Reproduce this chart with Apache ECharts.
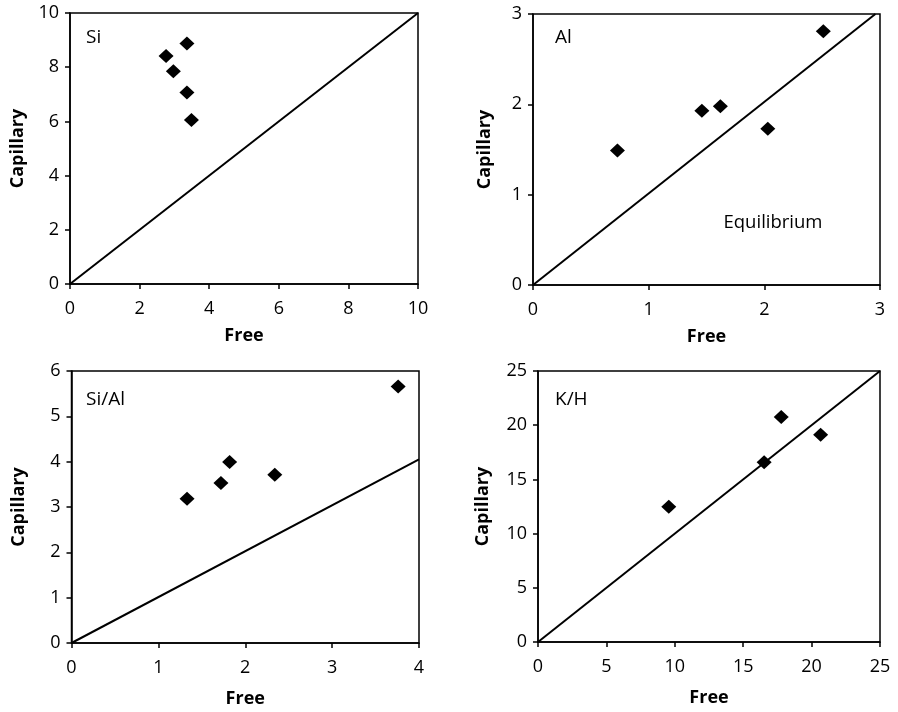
<!DOCTYPE html>
<html>
<head>
<meta charset="utf-8">
<script src="https://cdn.jsdelivr.net/npm/echarts@6/dist/echarts.min.js"></script>
<style>
html,body{margin:0;padding:0;background:#fff;}
#main{width:898px;height:712px;}
</style>
</head>
<body>
<div id="main"></div>
<script>
// Si panel
const siFree = [2.76, 3.36, 2.97, 3.36, 3.49];
const siCap  = [8.41, 8.87, 7.85, 7.07, 6.05];
const siLine = [[0, 0], [10, 10]];
// Al panel
const alFree = [0.73, 1.46, 1.62, 2.03, 2.51];
const alCap  = [1.49, 1.93, 1.98, 1.73, 2.81];
const alLine = [[0, 0], [2.96, 3]];
// Si/Al panel
const siAlFree = [1.33, 1.72, 1.82, 2.34, 3.76];
const siAlCap  = [3.18, 3.53, 3.99, 3.71, 5.66];
const siAlLine = [[0, 0], [4, 4.05]];
// K/H panel
const khFree = [9.56, 16.53, 17.78, 20.66];
const khCap  = [12.47, 16.59, 20.75, 19.12];
const khLine = [[0, 0], [25, 25]];

const panelTitles = ['Si', 'Al', 'Si/Al', 'K/H'];
const xName = 'Free';
const yName = 'Capillary';
const annotation = 'Equilibrium';

const FONT = '"Open Sans", "Noto Sans", sans-serif';

function pairs(xs, ys) { return xs.map((x, i) => [x, ys[i]]); }

const grids = [
  {left: 70, top: 13, width: 348, height: 271},
  {left: 533, top: 14, width: 347, height: 271},
  {left: 71.5, top: 371, width: 347.5, height: 272},
  {left: 538, top: 371, width: 342, height: 271}
].map(g => Object.assign(g, {show: true, borderColor: '#000', borderWidth: 1.5, containLabel: false}));

const axisRanges = [
  {x: [0, 10, 2], y: [0, 10, 2], yGap: 43, xGap: 43},
  {x: [0, 3, 1], y: [0, 3, 1], yGap: 39, xGap: 43},
  {x: [0, 4, 1], y: [0, 6, 1], yGap: 44, xGap: 47},
  {x: [0, 25, 5], y: [0, 25, 5], yGap: 46, xGap: 47}
];

const baseAxis = {
  type: 'value',
  axisLine: {show: true, lineStyle: {color: '#000', width: 1.5}},
  axisTick: {show: true, length: 5, lineStyle: {color: '#000', width: 1.5}},
  splitLine: {show: false},
  nameLocation: 'middle',
  nameTextStyle: {fontFamily: FONT, fontSize: 18, fontWeight: 'bold', color: '#000'},
  axisLabel: {fontFamily: FONT, fontSize: 18, color: '#000'}
};

const xAxes = axisRanges.map((r, i) => Object.assign({}, baseAxis, {
  gridIndex: i, min: r.x[0], max: r.x[1], interval: r.x[2],
  name: xName, nameGap: r.xGap,
  axisLabel: Object.assign({}, baseAxis.axisLabel, {margin: 16})
}));
const yAxes = axisRanges.map((r, i) => Object.assign({}, baseAxis, {
  gridIndex: i, min: r.y[0], max: r.y[1], interval: r.y[2],
  name: yName, nameGap: r.yGap,
  axisLabel: Object.assign({}, baseAxis.axisLabel, {margin: 11})
}));

const scatterData = [pairs(siFree, siCap), pairs(alFree, alCap), pairs(siAlFree, siAlCap), pairs(khFree, khCap)];
const lineData = [siLine, alLine, siAlLine, khLine];

const series = [];
for (let i = 0; i < 4; i++) {
  series.push({
    type: 'line', xAxisIndex: i, yAxisIndex: i, data: lineData[i],
    symbol: 'none', lineStyle: {color: '#000', width: 2}, silent: true, z: 2
  });
  series.push({
    type: 'scatter', xAxisIndex: i, yAxisIndex: i, data: scatterData[i],
    symbol: 'diamond', symbolSize: [15, 14], itemStyle: {color: '#000', opacity: 1}, z: 3
  });
}

const titlePos = [[86, 38], [555, 38], [86, 400], [555, 400]];
const graphic = panelTitles.map((t, i) => ({
  type: 'text', x: titlePos[i][0], y: titlePos[i][1],
  style: {text: t, font: '19px ' + FONT, fill: '#000', textAlign: 'left', textVerticalAlign: 'middle'}
}));
graphic.push({
  type: 'text', x: 773, y: 223,
  style: {text: annotation, font: '18.5px ' + FONT, fill: '#000', textAlign: 'center', textVerticalAlign: 'middle'}
});

const chart = echarts.init(document.getElementById('main'));
chart.setOption({
  animation: false,
  backgroundColor: '#fff',
  grid: grids,
  xAxis: xAxes,
  yAxis: yAxes,
  series: series,
  graphic: graphic
});
</script>
</body>
</html>
